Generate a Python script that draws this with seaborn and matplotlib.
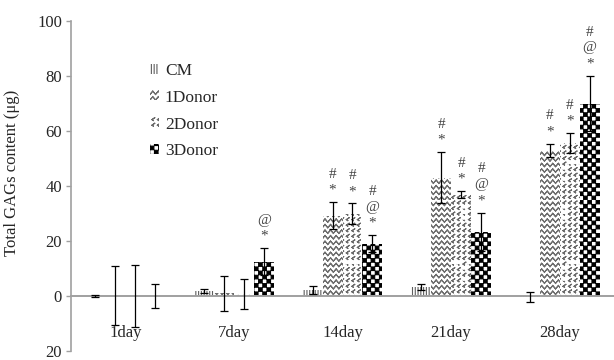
import warnings
import numpy as np
import pandas as pd
import seaborn as sns
import matplotlib
matplotlib.use("Agg")
import matplotlib.pyplot as plt
import matplotlib.hatch as mhatch
from matplotlib.path import Path

warnings.filterwarnings("ignore")

# ---- data ----
days = ["1day", "7day", "14day", "21day", "28day"]
groups = ["CM", "1Donor", "2Donor", "3Donor"]

cm = [0.0, 1.8, 2.1, 3.2, -0.4]
cm_err = [0.3, 0.6, 1.5, 1.0, 1.7]
donor1 = [0.0, 0.9, 29.2, 42.9, 52.8]
donor1_err = [10.7, 6.4, 5.0, 9.3, 2.5]
donor2 = [0.0, 0.8, 29.8, 36.8, 55.6]
donor2_err = [11.3, 5.5, 3.8, 1.3, 3.5]
donor3 = [0.0, 12.5, 19.0, 23.3, 69.9]
donor3_err = [4.5, 5.0, 3.2, 7.0, 10.1]

# significance marks, listed bottom to top
cm_marks = ["", "", "", "", ""]
donor1_marks = ["", "", "*#", "*#", "*#"]
donor2_marks = ["", "", "*#", "*#", "*#"]
donor3_marks = ["", "*@", "*@#", "*@#", "*@#"]

yticks = [-20, 0, 20, 40, 60, 80, 100]
yticklabels = ["20", "0", "20", "40", "60", "80", "100"]


# ---- extra hatch patterns (checkerboard, zigzag, chevrons) ----
class CheckerHatch(mhatch.HatchPatternBase):
    def __init__(self, hatch, density):
        n = int(hatch.count("c") * density)
        self.n = n + (n % 2)
        self.num_vertices = (self.n * self.n // 2) * 5

    def set_vertices_and_codes(self, vertices, codes):
        n = self.n
        s = 1.0 / n
        d = 0.003
        sq = np.array([[d, d], [s - d, d], [s - d, s - d], [d, s - d], [d, d]])
        sq_codes = [Path.MOVETO, Path.LINETO, Path.LINETO, Path.LINETO, Path.CLOSEPOLY]
        vs, cs = [], []
        for i in range(n):
            for j in range(n):
                if (i + j) % 2 == 0:
                    vs.append(sq + [i * s, j * s])
                    cs.append(sq_codes)
        vertices[:] = np.concatenate(vs)
        codes[:] = np.concatenate(cs)


class ZigzagHatch(mhatch.HatchPatternBase):
    def __init__(self, hatch, density):
        self.n = int(hatch.count("z") * density)
        self.num_vertices = self.n * (2 * self.n + 1) * 2

    def set_vertices_and_codes(self, vertices, codes):
        n = self.n
        s = 1.0 / n
        xs = np.linspace(0, 1, 2 * n + 1)
        off = np.where(np.arange(2 * n + 1) % 2 == 0, 0.0, 0.6 * s)
        vs, cs = [], []
        for j in range(n):
            row = np.column_stack([xs, j * s + off])
            pts = np.concatenate([row, row[::-1]])
            vs.append(pts)
            cs.append([Path.MOVETO] + [Path.LINETO] * (len(pts) - 1))
        vertices[:] = np.concatenate(vs)
        codes[:] = np.concatenate(cs)


class ChevronHatch(mhatch.HatchPatternBase):
    def __init__(self, hatch, density):
        self.n = int(hatch.count("v") * density)
        self.num_vertices = self.n * self.n * 5

    def set_vertices_and_codes(self, vertices, codes):
        n = self.n
        s = 1.0 / n
        shape = np.array([[0.6, 0.3], [0.35, 0.47], [0.6, 0.64], [0.35, 0.47], [0.6, 0.3]]) * s
        vs, cs = [], []
        for i in range(n):
            for j in range(n):
                vs.append(shape + [i * s, j * s])
                cs.append([Path.MOVETO] + [Path.LINETO] * 4)
        vertices[:] = np.concatenate(vs)
        codes[:] = np.concatenate(cs)


mhatch._hatch_types.extend([CheckerHatch, ZigzagHatch, ChevronHatch])

styles = {
    "CM": ("||||||", "#5e5e5e"),
    "1Donor": ("zzz", "#6e6e6e"),
    "2Donor": ("vvv", "#6a6a6a"),
    "3Donor": ("cccc", "#000000"),
}

means = {"CM": cm, "1Donor": donor1, "2Donor": donor2, "3Donor": donor3}
errs = {"CM": cm_err, "1Donor": donor1_err, "2Donor": donor2_err, "3Donor": donor3_err}
marks = {"CM": cm_marks, "1Donor": donor1_marks, "2Donor": donor2_marks, "3Donor": donor3_marks}

df = pd.DataFrame(
    [(d, g, means[g][i]) for g in groups for i, d in enumerate(days)],
    columns=["day", "group", "value"],
)

sns.set_style("white")
plt.rcParams["font.family"] = ["Liberation Serif", "DejaVu Serif"]
plt.rcParams["hatch.linewidth"] = 0.8
text_col = "#262626"
axis_col = "#a0a0a0"

fig = plt.figure(figsize=(6.14, 3.6), dpi=100)
ax = fig.add_axes([71 / 614, 9 / 360, 1 - 71 / 614, 330.3 / 360])

sns.barplot(data=df, x="day", y="value", hue="group", order=days, hue_order=groups,
            palette=["white"] * 4, width=0.735, gap=0, errorbar=None, legend=False, ax=ax)

for cont, g in zip(ax.containers, groups):
    hatch, col = styles[g]
    xs = []
    for p in cont.patches:
        p.set_facecolor("white")
        p.set_edgecolor(col)
        p.set_linewidth(0)
        p.set_hatch(hatch)
        xs.append(p.get_x() + p.get_width() / 2)
    ax.errorbar(xs, means[g], yerr=errs[g], fmt="none", ecolor="black",
                elinewidth=0.9, capsize=3, capthick=0.9, zorder=3)
    for x, m, e, s in zip(xs, means[g], errs[g], marks[g]):
        for k, ch in enumerate(s):
            ax.annotate(ch, xy=(x, m + e), xytext=(0, 8.5 + 11.5 * k), textcoords="offset points",
                        ha="center", va="center", fontsize=11, color="#444444")

ax.set_ylim(-20, 100)
ax.set_xlim(-0.5, 4.5)
ax.set_yticks(yticks)
ax.set_yticklabels(yticklabels)
ax.set_xlabel("")
ax.set_ylabel("Total GAGs content (\u03bcg)", fontsize=12, color=text_col)
ax.yaxis.set_label_coords(-0.094, 0.54)

ax.spines["top"].set_visible(False)
ax.spines["right"].set_visible(False)
ax.spines["left"].set_color(axis_col)
ax.spines["left"].set_linewidth(1.2)
ax.spines["bottom"].set_position(("data", 0))
ax.spines["bottom"].set_color(axis_col)
ax.spines["bottom"].set_linewidth(1.4)
ax.tick_params(axis="y", direction="out", length=3.5, width=1, color=axis_col,
               labelsize=12, labelcolor=text_col, pad=3, left=True)
ax.tick_params(axis="x", length=0, labelsize=12, labelcolor=text_col, pad=21)

ax.legend(ax.containers, groups, loc="upper left", bbox_to_anchor=(150 / 614, 1 - 63 / 360),
          bbox_transform=fig.transFigure, frameon=False, fontsize=12.5,
          handlelength=0.5, handleheight=0.55, handletextpad=0.35,
          labelspacing=0.62, borderpad=0, borderaxespad=0, labelcolor=text_col)

fig.savefig("out.png", dpi=100)
